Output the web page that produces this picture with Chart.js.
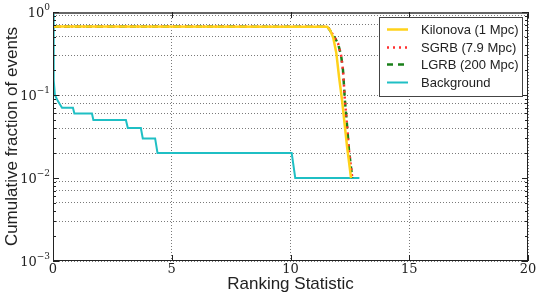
<!DOCTYPE html>
<html>
<head>
<meta charset="utf-8">
<script src="https://cdn.jsdelivr.net/npm/chart.js@4.4.0/dist/chart.umd.min.js"></script>
<style>
  html, body { margin: 0; padding: 0; background: #fff; }
  #wrap { width: 540px; height: 295px; position: relative; }
</style>
</head>
<body>
<div id="wrap"><canvas id="cdf"></canvas></div>
<script>
// values
const kilonovaX = [0, 11.54, 11.66, 11.8, 11.93, 12.05, 12.17, 12.38, 12.55];
const kilonovaY = [0.67, 0.665, 0.61, 0.49, 0.32, 0.16, 0.087, 0.024, 0.01];

const sgrbX = [0, 11.56, 11.79, 12.0, 12.13, 12.21, 12.29, 12.38, 12.46, 12.6];
const sgrbY = [0.67, 0.665, 0.53, 0.42, 0.30, 0.20, 0.087, 0.043, 0.022, 0.01];

const lgrbX = [0, 11.56, 11.79, 12.0, 12.13, 12.21, 12.29, 12.38, 12.46, 12.6];
const lgrbY = [0.67, 0.665, 0.53, 0.42, 0.30, 0.20, 0.087, 0.043, 0.022, 0.01];

const backgroundX = [0, 0.03, 0.08, 0.2, 0.38, 0.84, 0.9, 1.64, 1.7, 3.07, 3.15, 3.7, 3.78, 4.3, 4.4, 10.05, 10.2, 12.9];
const backgroundY = [1.0, 0.15, 0.1, 0.085, 0.07, 0.07, 0.06, 0.06, 0.05, 0.05, 0.04, 0.04, 0.03, 0.03, 0.02, 0.02, 0.01, 0.01];

const xTicks = [0, 5, 10, 15, 20];
const yDecades = [-3, -2, -1, 0];

const seriesNames = ['Kilonova (1 Mpc)', 'SGRB (7.9 Mpc)', 'LGRB (200 Mpc)', 'Background'];

const toPoints = (xs, ys) => xs.map((x, i) => ({ x: x, y: ys[i] }));

// minor + major tick values for the log axis grid
const logTicks = [];
yDecades.forEach(e => {
    const top = e === 0 ? 1 : 9;
    for (let m = 1; m <= top; m++) logTicks.push(m * Math.pow(10, e));
});

const sansFont = '"Liberation Sans", Arial, sans-serif';
const serifFont = '"DejaVu Serif", "Liberation Serif", serif';

// frame, tick labels with exponents and the boxed legend
const decorPlugin = {
    id: 'decor',
    afterDraw(chart) {
        const ctx = chart.ctx;
        const a = chart.chartArea;
        const ys = chart.scales.y;
        const xs = chart.scales.x;
        ctx.save();
        ctx.strokeStyle = '#222';
        ctx.lineWidth = 1;
        ctx.setLineDash([]);
        ctx.strokeRect(a.left + 0.5, a.top + 0.5, a.right - a.left - 1, a.bottom - a.top - 1);
        // matplotlib draws the top spine a bit heavier here
        ctx.strokeStyle = '#666';
        ctx.lineWidth = 2;
        ctx.beginPath();
        ctx.moveTo(a.left, a.top + 1);
        ctx.lineTo(a.right, a.top + 1);
        ctx.stroke();

        // small inward tick marks
        ctx.strokeStyle = '#222';
        ctx.lineWidth = 1;
        ctx.beginPath();
        logTicks.forEach(v => {
            const py = Math.round(ys.getPixelForValue(v)) + 0.5;
            const major = Math.abs(Math.log10(v) - Math.round(Math.log10(v))) < 1e-9;
            const len = major ? 6 : 3;
            ctx.moveTo(a.left, py); ctx.lineTo(a.left + len, py);
            ctx.moveTo(a.right, py); ctx.lineTo(a.right - len, py);
        });
        xTicks.forEach(v => {
            const px = Math.round(xs.getPixelForValue(v)) + 0.5;
            ctx.moveTo(px, a.bottom); ctx.lineTo(px, a.bottom - 6);
            ctx.moveTo(px, a.top); ctx.lineTo(px, a.top + 6);
        });
        ctx.stroke();

        // y tick labels 10^e
        ctx.fillStyle = '#222';
        ctx.textBaseline = 'alphabetic';
        yDecades.forEach(e => {
            const py = ys.getPixelForValue(Math.pow(10, e));
            const exp = e === 0 ? '0' : '\u2212' + Math.abs(e);
            ctx.font = '9px ' + serifFont;
            const ew = ctx.measureText(exp).width;
            ctx.textAlign = 'left';
            const ex = a.left - 3 - ew;
            ctx.fillText(exp, ex, py - 2);
            ctx.font = '13px ' + serifFont;
            ctx.textAlign = 'right';
            ctx.fillText('10', ex, py + 5);
        });

        // legend
        const lx = 379, ly = 17, lw = 143, lh = 79;
        ctx.fillStyle = '#fff';
        ctx.fillRect(lx, ly, lw, lh);
        ctx.strokeStyle = '#444';
        ctx.lineWidth = 1;
        ctx.strokeRect(lx + 0.5, ly + 0.5, lw, lh);
        const rows = [29, 47, 64, 82];
        chart.data.datasets.forEach((ds, i) => {
            const ry = rows[i] + 0.5;
            ctx.strokeStyle = ds.borderColor;
            ctx.lineWidth = ds.borderWidth;
            ctx.setLineDash(ds.borderDash || []);
            ctx.beginPath();
            ctx.moveTo(387, ry);
            ctx.lineTo(408, ry);
            ctx.stroke();
            ctx.setLineDash([]);
            ctx.fillStyle = '#222';
            ctx.font = '13px ' + sansFont;
            ctx.textAlign = 'left';
            ctx.textBaseline = 'middle';
            ctx.fillText(seriesNames[i], 421, rows[i] + 1);
        });
        ctx.restore();
    }
};

const ctx = document.getElementById('cdf').getContext('2d');

const cdfChart = new Chart(ctx, {
    type: 'scatter',
    data: {
        datasets: [
            {
                label: seriesNames[0],
                data: toPoints(kilonovaX, kilonovaY),
                borderColor: '#ffd21a',
                borderWidth: 2.5
            },
            {
                label: seriesNames[1],
                data: toPoints(sgrbX, sgrbY),
                borderColor: '#ff3030',
                borderWidth: 2.5,
                borderDash: [2, 4]
            },
            {
                label: seriesNames[2],
                data: toPoints(lgrbX, lgrbY),
                borderColor: '#1a801a',
                borderWidth: 2.5,
                borderDash: [6, 5]
            },
            {
                label: seriesNames[3],
                data: toPoints(backgroundX, backgroundY),
                borderColor: '#1fbfc4',
                borderWidth: 2
            }
        ]
    },
    options: {
        responsive: true,
        maintainAspectRatio: false,
        animation: false,
        layout: { padding: { left: 2, top: 12, right: 12, bottom: 0 } },
        datasets: {
            scatter: { showLine: true, pointRadius: 0, fill: false, tension: 0 }
        },
        plugins: {
            legend: { display: false },
            tooltip: { enabled: false }
        },
        scales: {
            x: {
                type: 'linear',
                min: 0,
                max: 20,
                afterBuildTicks: scale => { scale.ticks = xTicks.map(v => ({ value: v })); },
                afterFit: scale => { scale.height = 34; },
                grid: { color: '#7a7a7a', lineWidth: 1, drawTicks: false },
                border: { display: false, dash: [1, 2] },
                ticks: {
                    color: '#222',
                    padding: 1,
                    maxRotation: 0,
                    font: { family: serifFont, size: 13 }
                },
                title: {
                    display: true,
                    text: 'Ranking Statistic',
                    color: '#222',
                    padding: { top: -4, bottom: 0 },
                    font: { family: sansFont, size: 17 }
                }
            },
            y: {
                type: 'logarithmic',
                min: 0.001,
                max: 1,
                afterBuildTicks: scale => { scale.ticks = logTicks.map(v => ({ value: v })); },
                afterFit: scale => { scale.width = 51; },
                grid: { color: '#7a7a7a', lineWidth: 1, drawTicks: false },
                border: { display: false, dash: [1, 2] },
                ticks: {
                    callback: () => '',
                    padding: 0
                },
                title: {
                    display: true,
                    text: 'Cumulative fraction of events',
                    color: '#222',
                    padding: { top: 0, bottom: 0 },
                    font: { family: sansFont, size: 17 }
                }
            }
        }
    },
    plugins: [decorPlugin]
});
</script>
</body>
</html>
